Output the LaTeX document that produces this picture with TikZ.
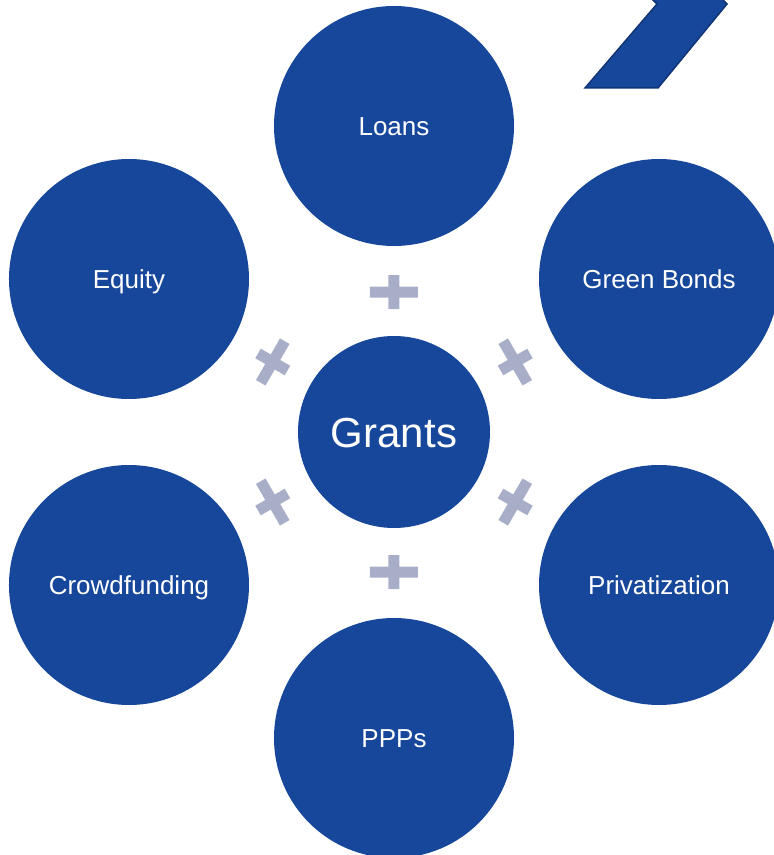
\documentclass[tikz,border=0pt]{standalone}
\usepackage{fontspec}
\setmainfont{Liberation Sans}
\usepackage{xcolor}
\usepackage{tikz}
\usetikzlibrary{positioning, calc}
\definecolor{fundblue}{RGB}{23,71,154}
\definecolor{fundedge}{RGB}{16,52,118}
\definecolor{crossgray}{RGB}{169,174,200}
\tikzstyle{hub} = [circle, minimum size=192pt, inner sep=0pt, text centered, text height=30pt, text depth=0pt, fill=fundblue, text=white, font=\fontsize{42}{48}\selectfont]
\tikzstyle{source} = [circle, minimum size=240pt, inner sep=0pt, text centered, text height=18.6pt, text depth=0pt, fill=fundblue, text=white, font=\fontsize{26}{30}\selectfont]
\tikzstyle{plussign} = [fill=crossgray]
\tikzstyle{chevron} = [fill=fundblue, draw=fundedge, line width=1.5pt, line join=miter]

\begin{document}
\begin{tikzpicture}[x=1pt, y=1pt]
        \useasboundingbox (-394,-423) rectangle (380,432);
        \node (grants) [hub] at (0,0) {Grants};
        \node (loans) [source] at ($(grants)+(90:306)$) {Loans};
        \node (greenbonds) [source] at ($(grants)+(30:306)$) {Green Bonds};
        \node (privatization) [source] at ($(grants)+(-30:306)$) {Privatization};
        \node (ppps) [source] at ($(grants)+(-90:306)$) {PPPs};
        \node (crowdfunding) [source] at ($(grants)+(-150:306)$) {Crowdfunding};
        \node (equity) [source] at ($(grants)+(150:306)$) {Equity};

        % plus signs between the hub and each source
        \foreach \a in {30,90,...,330}
            \fill [plussign, shift={(\a:140)}, rotate=\a-90]
                (-24,-5.5) rectangle (24,5.5) (-5.5,-17) rectangle (5.5,17);

        % chevron in the corner, cut off by the page edge
        \begin{scope}
            \clip (-394,-423) rectangle (380,432);
            \draw [chevron] (191,344) -- (264,344) -- (333,428) -- (321,440)
                -- (251,440) -- (263,428) -- cycle;
        \end{scope}
    \end{tikzpicture}
\end{document}
